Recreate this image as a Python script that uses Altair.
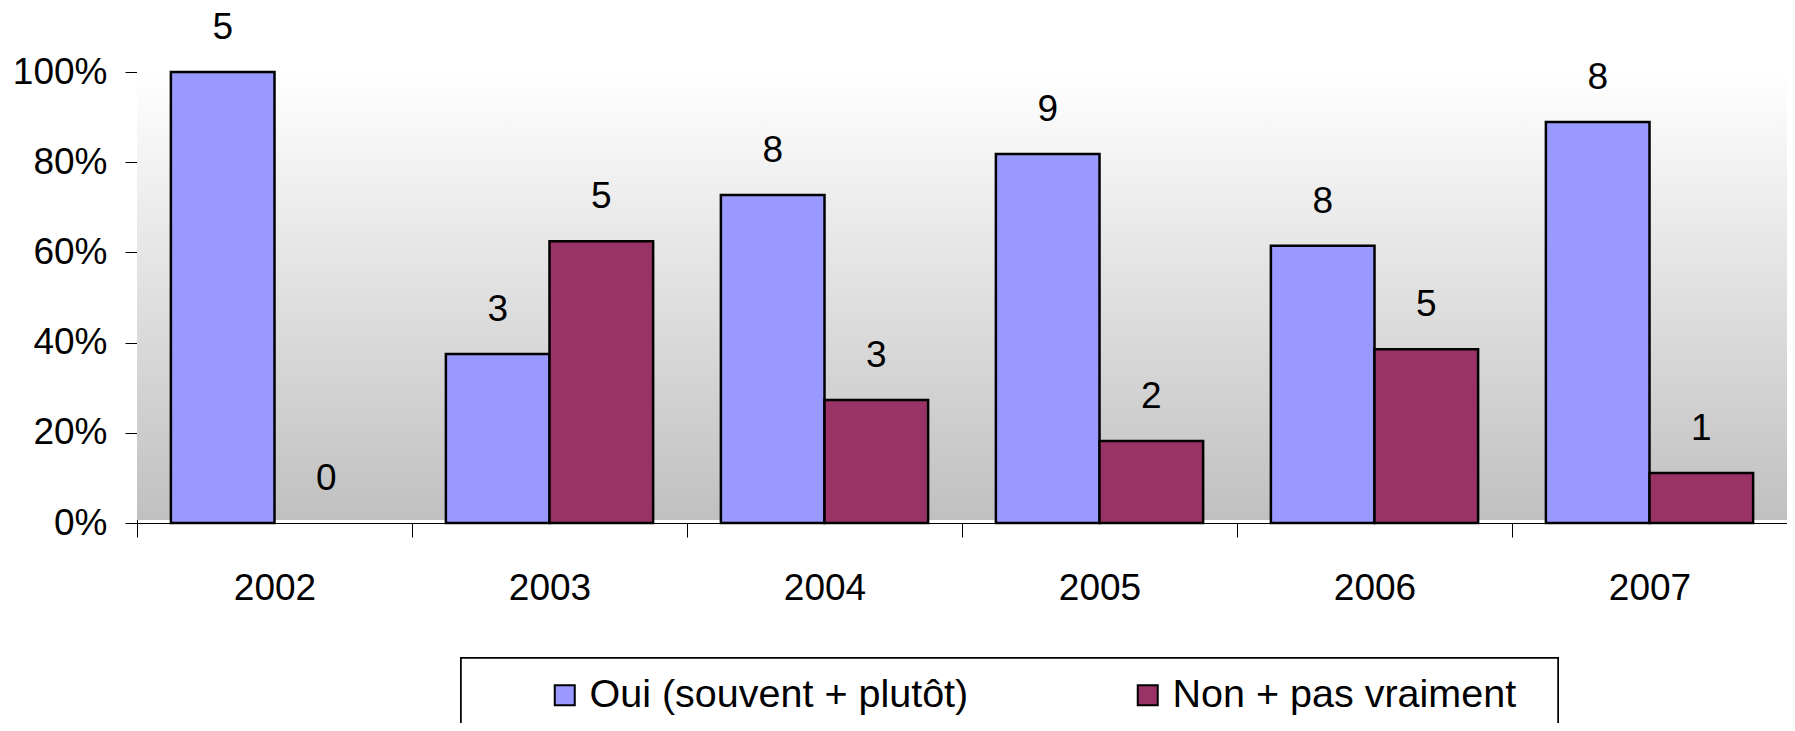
import altair as alt
import pandas as pd

years = ["2002", "2003", "2004", "2005", "2006", "2007"]
series = ["Oui (souvent + plutôt)", "Non + pas vraiment"]
oui_pct = [100.0, 37.5, 72.7, 81.8, 61.5, 88.9]
non_pct = [0.0, 62.5, 27.3, 18.2, 38.5, 11.1]
oui_n = [5, 3, 8, 9, 8, 8]
non_n = [0, 5, 3, 2, 5, 1]
colors = ["#9999FF", "#993366"]

rows = []
for i, y in enumerate(years):
    rows.append({"year": y, "serie": series[0], "pct": oui_pct[i] / 100, "n": oui_n[i]})
    rows.append({"year": y, "serie": series[1], "pct": non_pct[i] / 100, "n": non_n[i]})
df = pd.DataFrame(rows)

W = 1650
H = 451
FONT = "Liberation Sans"

x_enc = alt.X("year:N", sort=years,
              scale=alt.Scale(paddingInner=0, paddingOuter=0),
              axis=alt.Axis(title=None, labelAngle=0, tickBand="extent", tickSize=14,
                            labelPadding=33, labelFontSize=37, labelFont=FONT,
                            labelColor="#000", domainColor="#000", tickColor="#000",
                            domainWidth=1, tickWidth=1, grid=False))
xo_enc = alt.XOffset("serie:N", sort=series,
                     scale=alt.Scale(paddingInner=0, paddingOuter=0.327))
y_enc = alt.Y("pct:Q", scale=alt.Scale(domain=[0, 1], nice=False),
              axis=alt.Axis(title=None, format=".0%", values=[0, 0.2, 0.4, 0.6, 0.8, 1.0],
                            tickSize=12, labelPadding=18, labelFontSize=37, labelFont=FONT,
                            labelColor="#000", domainColor="#000", tickColor="#000",
                            domainWidth=1, tickWidth=1, grid=False))

grad = alt.Gradient(gradient="linear",
                    stops=[alt.GradientStop(color="#ffffff", offset=0),
                           alt.GradientStop(color="#c0c0c0", offset=1)],
                    x1=0, x2=0, y1=0, y2=1)

bg = alt.Chart(df).mark_rect(color=grad).encode(
    x=alt.value(0), x2=alt.value(W), y=alt.value(0), y2=alt.value(H - 3))

box = alt.Chart(df).mark_rect(fill="white", stroke="black", strokeWidth=1.5).encode(
    x=alt.value(324), x2=alt.value(324 + 1097), y=alt.value(586), y2=alt.value(720))

bars = alt.Chart(df).transform_filter("datum.pct > 0").mark_bar(
    stroke="black", strokeWidth=2.5).encode(
    x=x_enc, xOffset=xo_enc, y=y_enc,
    color=alt.Color("serie:N", sort=series,
                    scale=alt.Scale(domain=series, range=colors),
                    legend=alt.Legend(title=None, orient="none", direction="horizontal",
                                      legendX=408, legendY=603, symbolType="square",
                                      symbolSize=400, symbolStrokeColor="black",
                                      symbolStrokeWidth=2, labelFontSize=39.5,
                                      labelFont=FONT, labelColor="#000", labelOffset=5,
                                      columnPadding=159, padding=0, labelLimit=600)))

labels = alt.Chart(df).mark_text(fontSize=37, font=FONT, color="#000",
                                 baseline="middle", dy=-44).encode(
    x=alt.X("year:N", sort=years), xOffset=alt.XOffset("serie:N", sort=series),
    y="pct:Q", text="n:Q")

chart = alt.layer(bg, box, bars, labels).properties(
    width=W, height=H,
    autosize=alt.AutoSizeParams(type="none"),
    padding={"left": 129, "top": 64, "right": 0, "bottom": 200},
    background="white",
).configure_view(stroke=None)

chart.save("out.html", embed_options={"renderer": "svg", "actions": False})
